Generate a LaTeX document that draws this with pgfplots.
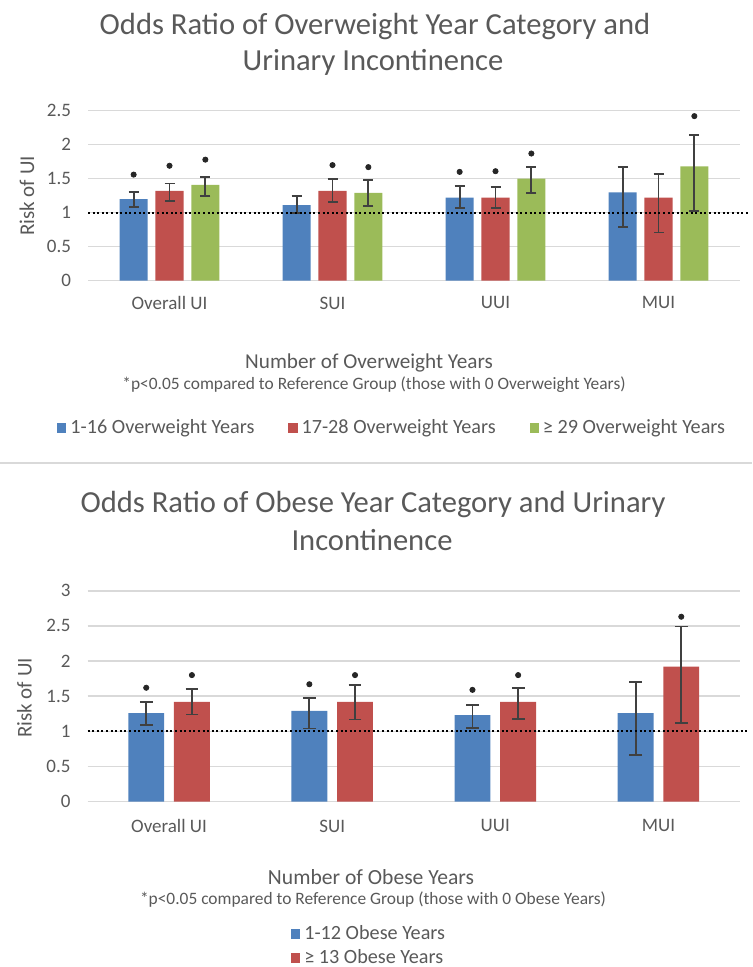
\documentclass[border=0pt]{standalone}
\usepackage{pgfplots}
\pgfplotsset{compat=1.18}
\usepackage{pgfplotstable}
\usepackage{fontspec}
\setmainfont{Carlito}
\definecolor{cblue}{HTML}{4F81BD}
\definecolor{cred}{HTML}{C0504D}
\definecolor{cgreen}{HTML}{9BBB59}
\definecolor{txt}{HTML}{595959}
\definecolor{gridc}{HTML}{D9D9D9}
\definecolor{errc}{HTML}{404040}

% Overweight years (x includes bar offset)
\pgfplotstableread{
x y ep em
-0.22 1.20 0.11 0.12
0.78 1.11 0.13 0.12
1.78 1.22 0.17 0.15
2.78 1.30 0.37 0.51
}\owblue
\pgfplotstableread{
x y ep em
0 1.32 0.11 0.15
1 1.32 0.18 0.16
2 1.22 0.16 0.15
3 1.22 0.35 0.51
}\owred
\pgfplotstableread{
x y ep em
0.22 1.41 0.12 0.17
1.22 1.29 0.19 0.19
2.22 1.50 0.17 0.21
3.22 1.68 0.46 0.65
}\owgreen
\pgfplotstableread{
x y
-0.22 1.56
1.78 1.60
0 1.69
1 1.70
2 1.61
0.22 1.78
1.22 1.67
2.22 1.87
3.22 2.42
}\owstar
% Obese years
\pgfplotstableread{
x y ep em
-0.14 1.26 0.16 0.17
0.86 1.29 0.18 0.25
1.86 1.23 0.15 0.18
2.86 1.26 0.44 0.60
}\obblue
\pgfplotstableread{
x y ep em
0.14 1.42 0.18 0.18
1.14 1.42 0.24 0.25
2.14 1.42 0.20 0.24
3.14 1.92 0.57 0.80
}\obred
\pgfplotstableread{
x y
-0.14 1.62
0.86 1.67
1.86 1.59
0.14 1.80
1.14 1.80
2.14 1.80
3.14 2.63
}\obstar

\pgfplotsset{
  riskaxis/.style={
    scale only axis,
    xmin=-0.5, xmax=3.5,
    ymin=0,
    axis line style={draw=none},
    tick style={draw=none},
    ymajorgrids,
    grid style={gridc, line width=0.8pt},
    xtick={0,1,2,3},
    xticklabels={Overall UI,SUI,UUI,MUI},
    tick label style={font=\fontsize{9.5}{11}\selectfont, text=txt},
    /pgf/number format/assume math mode=true,
    yticklabel style={xshift=-5pt},
    clip=false,
    legend style={draw=none, fill=none, font=\fontsize{10.1}{11.5}\selectfont, text=txt,
      /tikz/every even column/.append style={column sep=15pt}},
    legend cell align=left,
    legend image code/.code={\fill[##1] (0pt,-2.3pt) rectangle (4.6pt,2.3pt);},
  },
  errbar/.style={error bars/.cd, y dir=both, y explicit,
    error bar style={line width=0.9pt, errc},
    error mark options={rotate=90, mark size=#1, line width=0.9pt, errc}},
  refline/.style={forget plot, black, line width=1pt, dash pattern=on 1pt off 1.3pt},
  star/.style={forget plot, only marks, mark=*, mark size=1.3pt, black!85},
}

\begin{document}
\begin{tikzpicture}
\path[use as bounding box] (0,0) rectangle (376pt,483.5pt);

% ---------- Top chart ----------
\begin{axis}[riskaxis,
  at={(44pt,343.15pt)}, anchor=south west,
  width=326pt, height=85pt,
  ymax=2.5, ytick={0,0.5,1,1.5,2,2.5},
  xticklabel style={yshift=-4.5pt},
  legend columns=3,
  legend style={at={(rel axis cs:0.468,-0.866)}, anchor=center},
]
\addplot[ybar, bar width=0.172, bar shift=0pt, fill=cblue, draw=none, errbar=2.5pt]
  table[x=x, y=y, y error plus=ep, y error minus=em] {\owblue};
\addlegendentry{1-16 Overweight Years}
\addplot[ybar, bar width=0.172, bar shift=0pt, fill=cred, draw=none, errbar=2.5pt]
  table[x=x, y=y, y error plus=ep, y error minus=em] {\owred};
\addlegendentry{17-28 Overweight Years}
\addplot[ybar, bar width=0.172, bar shift=0pt, fill=cgreen, draw=none, errbar=2.5pt]
  table[x=x, y=y, y error plus=ep, y error minus=em] {\owgreen};
\addlegendentry{≥ 29 Overweight Years}
\addplot[refline] coordinates {(-0.5,1) (3.56,1)};
\addplot[star] table[x=x, y=y] {\owstar};
\end{axis}

% ---------- Bottom chart ----------
\begin{axis}[riskaxis,
  at={(43.75pt,82.65pt)}, anchor=south west,
  width=326.25pt, height=105.5pt,
  ymax=3, ytick={0,0.5,1,1.5,2,2.5,3},
  xticklabel style={yshift=-5.5pt},
  legend columns=1,
  legend style={at={(rel axis cs:0.433,-0.684)}, anchor=center, row sep=-0.5pt},
]
\addplot[ybar, bar width=0.22, bar shift=0pt, fill=cblue, draw=none, errbar=3.2pt]
  table[x=x, y=y, y error plus=ep, y error minus=em] {\obblue};
\addlegendentry{1-12 Obese Years}
\addplot[ybar, bar width=0.22, bar shift=0pt, fill=cred, draw=none, errbar=3.2pt]
  table[x=x, y=y, y error plus=ep, y error minus=em] {\obred};
\addlegendentry{≥ 13 Obese Years}
\addplot[refline] coordinates {(-0.5,1) (3.56,1)};
\addplot[star] table[x=x, y=y] {\obstar};
\end{axis}

% ---------- Texts ----------
\begin{scope}[every node/.style={text=txt, inner sep=0pt}]
\node[font=\fontsize{15.3}{17}\selectfont] at (187.5pt,470pt) {Odds Ratio of Overweight Year Category and};
\node[font=\fontsize{15.3}{17}\selectfont] at (186.5pt,452.5pt) {Urinary Incontinence};
\node[font=\fontsize{10.5}{12}\selectfont, rotate=90] at (13.5pt,385.5pt) {Risk of UI};
\node[font=\fontsize{10.6}{12}\selectfont] at (184.5pt,302pt) {Number of Overweight Years};
\node[font=\fontsize{8.7}{10}\selectfont] at (187pt,291pt) {*p<0.05 compared to Reference Group (those with 0 Overweight Years)};

\node[font=\fontsize{15.3}{17}\selectfont] at (186.5pt,231pt) {Odds Ratio of Obese Year Category and Urinary};
\node[font=\fontsize{15.3}{17}\selectfont] at (186pt,213.5pt) {Incontinence};
\node[font=\fontsize{10.5}{12}\selectfont, rotate=90] at (12.25pt,134.5pt) {Risk of UI};
\node[font=\fontsize{10.8}{12}\selectfont] at (185.5pt,45pt) {Number of Obese Years};
\node[font=\fontsize{8.7}{10}\selectfont] at (186.5pt,33.5pt) {*p<0.05 compared to Reference Group (those with 0 Obese Years)};
\end{scope}
\draw[gridc, line width=1pt] (0pt,252pt) -- (376pt,252pt);
\end{tikzpicture}
\end{document}
